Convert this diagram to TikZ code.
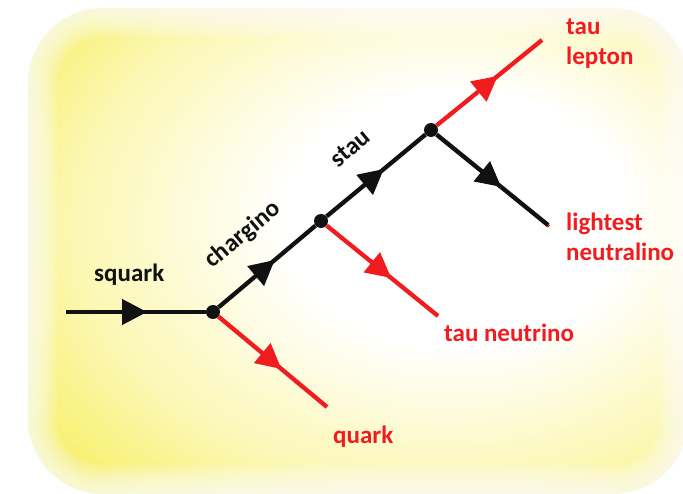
\documentclass[tikz,border=0pt]{standalone}
\usepackage{fontspec}
\setmainfont{Carlito}
\usetikzlibrary{arrows.meta, decorations.markings}

\definecolor{glowyellow}{RGB}{246,236,70}
\definecolor{decayred}{RGB}{240,28,32}
\definecolor{decayblack}{RGB}{17,17,17}
\pgfdeclareradialshading{glow}{\pgfpoint{9bp}{4bp}}{%
  color(0bp)=(white); color(13bp)=(white);
  color(27bp)=(glowyellow!40!white); color(41bp)=(glowyellow);
  color(80bp)=(glowyellow)}

\tikzset{
  particle/.style={line width=4.3pt},
  midarrow/.style={postaction={decorate},
    decoration={markings, mark=at position 0.58 with
      {\arrow{Triangle[length=25pt,width=25pt]}}}},
  vtx/.style={circle, fill=decayblack, inner sep=0pt, minimum size=14pt},
  lbl/.style={font=\bfseries\fontsize{25}{30}\selectfont, inner sep=0pt},
}

\begin{document}
\begin{tikzpicture}[x=1pt, y=-1pt]
  \useasboundingbox (0,0) rectangle (683,494);

  % Background
  \shade[shading=glow, rounded corners=75pt] (28,8) rectangle (688,494);
  \foreach \w in {4,10,...,58}
    \draw[white, opacity=0.13, line width=\w pt, rounded corners=75pt]
      (28,8) rectangle (688,494);

  % Vertices and free ends
  \coordinate (sq) at (66,312);
  \node[vtx] (A) at (213,312) {};
  \node[vtx] (B) at (321,221) {};
  \node[vtx] (C) at (431,130) {};
  \coordinate (q) at (327,407);
  \coordinate (nu) at (438,316);
  \coordinate (tau) at (542,40);
  \coordinate (chi) at (548,225);

  % Sparticles
  \draw[particle, midarrow, decayblack] (sq) -- (A);
  \draw[particle, midarrow, decayblack] (A) -- (B);
  \draw[particle, midarrow, decayblack] (B) -- (C);
  \draw[particle, decayred, line width=3pt,
        transform canvas={xshift=1pt, yshift=-1.5pt}] (C) -- (chi);
  \draw[particle, midarrow, decayblack] (C) -- (chi);

  % Standard model particles
  \draw[particle, midarrow, decayred] (A) -- (q);
  \draw[particle, midarrow, decayred] (B) -- (nu);
  \draw[particle, midarrow, decayred] (C) -- (tau);

  % Labels
  \node[lbl, decayblack, anchor=base west] (lsq) at (94,282) {squark};
  \node[lbl, decayblack, rotate=40] (lch) at (243,235) {chargino};
  \node[lbl, decayblack, rotate=40] (lst) at (350,148) {stau};
  \node[lbl, decayred, anchor=base west] (lq) at (333,443) {quark};
  \node[lbl, decayred, anchor=base west] (lnu) at (444,342) {tau neutrino};
  \node[lbl, decayred, anchor=north west, align=left] (ltau) at (566,19)
    {tau\\lepton};
  \node[lbl, decayred, anchor=north west, align=left] (lchi) at (566,213)
    {lightest\\neutralino};
\end{tikzpicture}
\end{document}
